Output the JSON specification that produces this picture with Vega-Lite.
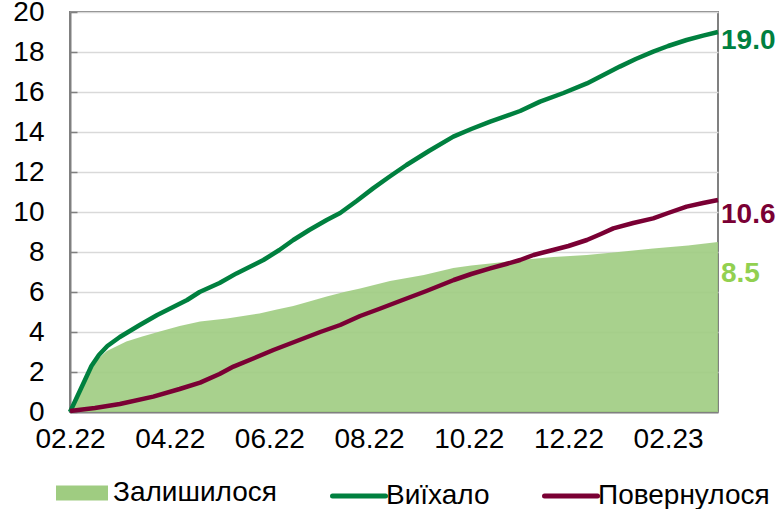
{
  "$schema": "https://vega.github.io/schema/vega-lite/v6.json",
  "width": 648,
  "height": 400,
  "autosize": "none",
  "padding": {"left": 70, "top": 12, "right": 62, "bottom": 97},
  "background": "white",
  "config": {
    "font": "Liberation Sans",
    "view": {"stroke": "#808080", "strokeWidth": 2},
    "axis": {"labelFont": "Liberation Sans", "labelFontSize": 28, "labelColor": "#000000", "labelFlush": false, "labelOverlap": false, "title": null},
    "legend": {"labelFont": "Liberation Sans", "labelFontSize": 28, "labelColor": "#000000", "labelLimit": 400, "padding": 0, "title": null}
  },
  "datasets": {
    "series": [
      {"m": 0, "value": 0, "series": "Виїхало"},
      {"m": 0.15, "value": 0.8, "series": "Виїхало"},
      {"m": 0.3, "value": 1.6, "series": "Виїхало"},
      {"m": 0.43, "value": 2.3, "series": "Виїхало"},
      {"m": 0.58, "value": 2.85, "series": "Виїхало"},
      {"m": 0.75, "value": 3.3, "series": "Виїхало"},
      {"m": 1.0, "value": 3.75, "series": "Виїхало"},
      {"m": 1.2, "value": 4.05, "series": "Виїхало"},
      {"m": 1.4, "value": 4.35, "series": "Виїхало"},
      {"m": 1.75, "value": 4.85, "series": "Виїхало"},
      {"m": 2.07, "value": 5.25, "series": "Виїхало"},
      {"m": 2.35, "value": 5.6, "series": "Виїхало"},
      {"m": 2.6, "value": 6.0, "series": "Виїхало"},
      {"m": 3.0, "value": 6.45, "series": "Виїхало"},
      {"m": 3.34, "value": 6.93, "series": "Виїхало"},
      {"m": 3.6, "value": 7.25, "series": "Виїхало"},
      {"m": 3.88, "value": 7.6, "series": "Виїхало"},
      {"m": 4.2, "value": 8.1, "series": "Виїхало"},
      {"m": 4.48, "value": 8.6, "series": "Виїхало"},
      {"m": 4.8, "value": 9.1, "series": "Виїхало"},
      {"m": 5.15, "value": 9.6, "series": "Виїхало"},
      {"m": 5.42, "value": 9.95, "series": "Виїхало"},
      {"m": 5.75, "value": 10.55, "series": "Виїхало"},
      {"m": 6.08, "value": 11.18, "series": "Виїхало"},
      {"m": 6.4, "value": 11.75, "series": "Виїхало"},
      {"m": 6.75, "value": 12.35, "series": "Виїхало"},
      {"m": 7.2, "value": 13.05, "series": "Виїхало"},
      {"m": 7.69, "value": 13.77, "series": "Виїхало"},
      {"m": 8.05, "value": 14.15, "series": "Виїхало"},
      {"m": 8.43, "value": 14.52, "series": "Виїхало"},
      {"m": 9.03, "value": 15.05, "series": "Виїхало"},
      {"m": 9.43, "value": 15.52, "series": "Виїхало"},
      {"m": 9.9, "value": 15.95, "series": "Виїхало"},
      {"m": 10.37, "value": 16.43, "series": "Виїхало"},
      {"m": 10.7, "value": 16.85, "series": "Виїхало"},
      {"m": 11.03, "value": 17.27, "series": "Виїхало"},
      {"m": 11.35, "value": 17.65, "series": "Виїхало"},
      {"m": 11.7, "value": 18.02, "series": "Виїхало"},
      {"m": 12.0, "value": 18.3, "series": "Виїхало"},
      {"m": 12.37, "value": 18.6, "series": "Виїхало"},
      {"m": 12.7, "value": 18.82, "series": "Виїхало"},
      {"m": 13.0, "value": 19.0, "series": "Виїхало"},
      {"m": 0, "value": 0.05, "series": "Повернулося"},
      {"m": 0.5, "value": 0.2, "series": "Повернулося"},
      {"m": 1.0, "value": 0.4, "series": "Повернулося"},
      {"m": 1.67, "value": 0.77, "series": "Повернулося"},
      {"m": 2.2, "value": 1.15, "series": "Повернулося"},
      {"m": 2.61, "value": 1.47, "series": "Повернулося"},
      {"m": 3.0, "value": 1.9, "series": "Повернулося"},
      {"m": 3.28, "value": 2.27, "series": "Повернулося"},
      {"m": 3.7, "value": 2.7, "series": "Повернулося"},
      {"m": 4.08, "value": 3.1, "series": "Повернулося"},
      {"m": 4.55, "value": 3.55, "series": "Повернулося"},
      {"m": 5.02, "value": 4.0, "series": "Повернулося"},
      {"m": 5.42, "value": 4.35, "series": "Повернулося"},
      {"m": 5.82, "value": 4.8, "series": "Повернулося"},
      {"m": 6.2, "value": 5.15, "series": "Повернулося"},
      {"m": 6.62, "value": 5.55, "series": "Повернулося"},
      {"m": 7.15, "value": 6.05, "series": "Повернулося"},
      {"m": 7.7, "value": 6.6, "series": "Повернулося"},
      {"m": 8.05, "value": 6.9, "series": "Повернулося"},
      {"m": 8.43, "value": 7.18, "series": "Повернулося"},
      {"m": 8.75, "value": 7.4, "series": "Повернулося"},
      {"m": 9.03, "value": 7.6, "series": "Повернулося"},
      {"m": 9.3, "value": 7.85, "series": "Повернулося"},
      {"m": 9.69, "value": 8.1, "series": "Повернулося"},
      {"m": 10.0, "value": 8.3, "series": "Повернулося"},
      {"m": 10.37, "value": 8.6, "series": "Повернулося"},
      {"m": 10.65, "value": 8.9, "series": "Повернулося"},
      {"m": 10.9, "value": 9.18, "series": "Повернулося"},
      {"m": 11.3, "value": 9.45, "series": "Повернулося"},
      {"m": 11.7, "value": 9.68, "series": "Повернулося"},
      {"m": 12.0, "value": 9.95, "series": "Повернулося"},
      {"m": 12.37, "value": 10.27, "series": "Повернулося"},
      {"m": 12.7, "value": 10.45, "series": "Повернулося"},
      {"m": 13.0, "value": 10.6, "series": "Повернулося"},
      {"m": 0, "value": 0, "series": "Залишилося"},
      {"m": 0.12, "value": 0.8, "series": "Залишилося"},
      {"m": 0.25, "value": 1.45, "series": "Залишилося"},
      {"m": 0.4, "value": 2.15, "series": "Залишилося"},
      {"m": 0.54, "value": 2.6, "series": "Залишилося"},
      {"m": 0.74, "value": 3.05, "series": "Залишилося"},
      {"m": 1.13, "value": 3.52, "series": "Залишилося"},
      {"m": 1.45, "value": 3.78, "series": "Залишилося"},
      {"m": 1.8, "value": 4.02, "series": "Залишилося"},
      {"m": 2.2, "value": 4.3, "series": "Залишилося"},
      {"m": 2.61, "value": 4.52, "series": "Залишилося"},
      {"m": 3.15, "value": 4.68, "series": "Залишилося"},
      {"m": 3.8, "value": 4.93, "series": "Залишилося"},
      {"m": 4.15, "value": 5.12, "series": "Залишилося"},
      {"m": 4.48, "value": 5.3, "series": "Залишилося"},
      {"m": 4.8, "value": 5.52, "series": "Залишилося"},
      {"m": 5.15, "value": 5.77, "series": "Залишилося"},
      {"m": 5.5, "value": 6.0, "series": "Залишилося"},
      {"m": 5.82, "value": 6.18, "series": "Залишилося"},
      {"m": 6.42, "value": 6.55, "series": "Залишилося"},
      {"m": 7.1, "value": 6.85, "series": "Залишилося"},
      {"m": 7.69, "value": 7.2, "series": "Залишилося"},
      {"m": 8.05, "value": 7.32, "series": "Залишилося"},
      {"m": 8.43, "value": 7.43, "series": "Залишилося"},
      {"m": 9.03, "value": 7.6, "series": "Залишилося"},
      {"m": 9.7, "value": 7.75, "series": "Залишилося"},
      {"m": 10.37, "value": 7.85, "series": "Залишилося"},
      {"m": 11.0, "value": 8.0, "series": "Залишилося"},
      {"m": 11.7, "value": 8.18, "series": "Залишилося"},
      {"m": 12.4, "value": 8.32, "series": "Залишилося"},
      {"m": 13.0, "value": 8.5, "series": "Залишилося"}
    ]
  },
  "data": {"name": "series"},
  "encoding": {
    "x": {
      "field": "m", "type": "quantitative",
      "scale": {"domain": [0, 13], "nice": false, "zero": false},
      "axis": {
        "values": [0, 2, 4, 6, 8, 10, 12],
        "labelExpr": "['02.22','04.22','06.22','08.22','10.22','12.22','02.23'][round(datum.value/2)]",
        "grid": false, "ticks": false,
        "domainColor": "#808080", "domainWidth": 2,
        "labelPadding": 13
      }
    },
    "y": {
      "field": "value", "type": "quantitative",
      "scale": {"domain": [0, 20], "nice": false},
      "axis": {
        "values": [0, 2, 4, 6, 8, 10, 12, 14, 16, 18, 20],
        "grid": true, "gridColor": "#D9D9D9", "gridWidth": 1.5,
        "domainColor": "#808080", "domainWidth": 2,
        "tickSize": -7, "tickColor": "#808080", "tickWidth": 1.5,
        "labelPadding": 33
      }
    }
  },
  "layer": [
    {
      "transform": [{"filter": "datum.series == 'Залишилося'"}],
      "mark": {"type": "area", "opacity": 0.9},
      "encoding": {
        "fill": {
          "field": "series", "type": "nominal",
          "scale": {"domain": ["Залишилося"], "range": ["#9FCC81"]},
          "legend": {
            "orient": "none", "legendX": -14, "legendY": 455,
            "symbolType": "M-1,-0.29H1V0.29H-1Z", "symbolSize": 2704,
            "symbolStrokeWidth": 0, "symbolOpacity": 1, "labelOffset": 5
          }
        }
      }
    },
    {
      "transform": [{"filter": "datum.series != 'Залишилося'"}],
      "mark": {"type": "line", "strokeWidth": 4.5, "strokeJoin": "round"},
      "encoding": {
        "stroke": {
          "field": "series", "type": "nominal",
          "scale": {"domain": ["Виїхало", "Повернулося"], "range": ["#00803F", "#7A0034"]},
          "legend": {
            "orient": "none", "legendX": 260, "legendY": 455, "direction": "horizontal",
            "symbolType": "stroke", "symbolSize": 2809, "symbolStrokeWidth": 5,
            "labelOffset": -2, "columnPadding": 44,
            "encode": {"symbols": {"update": {"strokeCap": {"value": "round"}}}}
          }
        }
      }
    },
    {
      "transform": [{"filter": "datum.series == 'Виїхало' && datum.m == 13"}],
      "mark": {"type": "text", "align": "left", "baseline": "middle", "dx": 3, "dy": 9, "fontSize": 28, "fontWeight": "bold", "color": "#00803F"},
      "encoding": {"text": {"field": "value", "type": "quantitative", "format": ".1f"}}
    },
    {
      "transform": [{"filter": "datum.series == 'Повернулося' && datum.m == 13"}],
      "mark": {"type": "text", "align": "left", "baseline": "middle", "dx": 3, "dy": 15, "fontSize": 28, "fontWeight": "bold", "color": "#7A0034"},
      "encoding": {"text": {"field": "value", "type": "quantitative", "format": ".1f"}}
    },
    {
      "transform": [{"filter": "datum.series == 'Залишилося' && datum.m == 13"}],
      "mark": {"type": "text", "align": "left", "baseline": "middle", "dx": 3, "dy": 32, "fontSize": 28, "fontWeight": "bold", "color": "#92D050"},
      "encoding": {"text": {"field": "value", "type": "quantitative", "format": ".1f"}}
    }
  ]
}
